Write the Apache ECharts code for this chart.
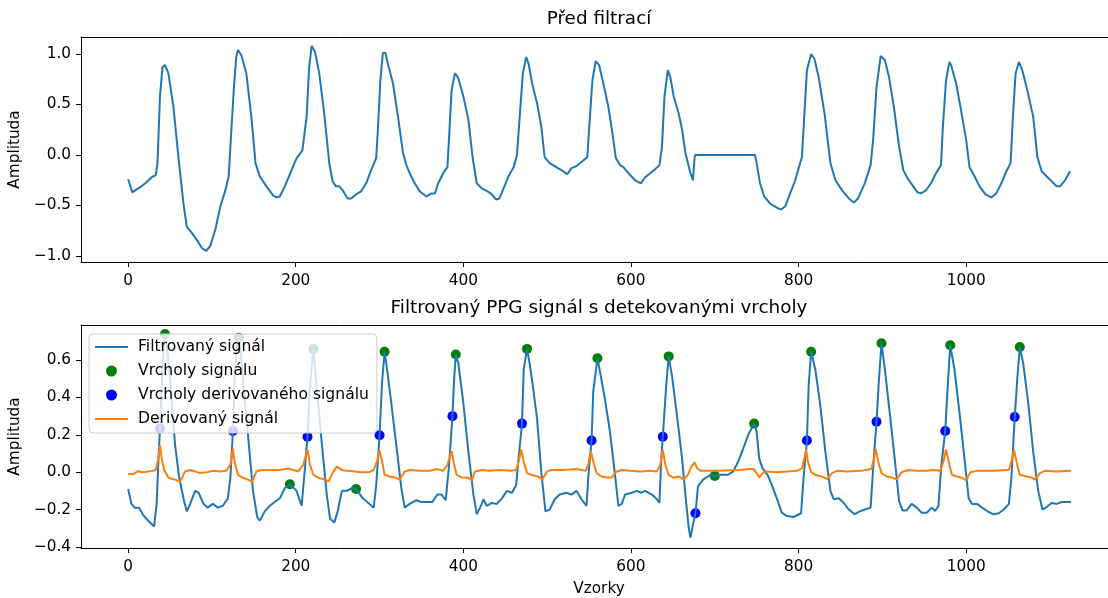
<!DOCTYPE html>
<html>
<head>
<meta charset="utf-8">
<script src="https://cdn.jsdelivr.net/npm/echarts@6/dist/echarts.min.js"></script>
<style>html,body{margin:0;padding:0;background:#fff;overflow:hidden}#c{width:1130px;height:598px}</style>
</head>
<body>
<div id="c"></div>
<script>
// ---- text ----
const titleTop = 'Před filtrací';
const titleBottom = 'Filtrovaný PPG signál s detekovanými vrcholy';
const yName = 'Amplituda';
const xName = 'Vzorky';
const seriesNames = ['Filtrovaný signál', 'Vrcholy signálu', 'Vrcholy derivovaného signálu', 'Derivovaný signál'];

// ---- ticks ----
const xTicks = [0, 200, 400, 600, 800, 1000];
const topYTicks = [-1.0, -0.5, 0.0, 0.5, 1.0];
const bottomYTicks = [-0.4, -0.2, 0.0, 0.2, 0.4, 0.6];

// ---- data: [sample, amplitude] ----
const rawSignal = [[0,-0.24],[5,-0.37],[10,-0.34],[16,-0.31],[22,-0.27],[28,-0.22],[33,-0.20],[35,-0.08],[38,0.58],[41,0.87],[44,0.89],[48,0.81],[54,0.48],[60,-0.02],[66,-0.48],[70,-0.71],[76,-0.77],[82,-0.84],[88,-0.92],[93,-0.95],[98,-0.90],[104,-0.74],[110,-0.51],[116,-0.35],[120,-0.21],[122,0.08],[126,0.64],[129,0.97],[131,1.04],[135,0.99],[141,0.81],[147,0.38],[152,-0.08],[157,-0.21],[165,-0.31],[173,-0.40],[177,-0.42],[181,-0.41],[187,-0.31],[195,-0.15],[201,-0.03],[205,0.01],[208,0.05],[213,0.38],[216,0.87],[219,1.08],[223,1.02],[228,0.81],[234,0.41],[240,-0.08],[244,-0.26],[248,-0.31],[252,-0.31],[256,-0.35],[262,-0.43],[266,-0.43],[272,-0.39],[278,-0.36],[284,-0.28],[290,-0.15],[296,-0.03],[298,0.25],[301,0.74],[304,1.01],[307,1.01],[310,0.90],[316,0.71],[322,0.38],[328,0.02],[332,-0.10],[336,-0.18],[342,-0.28],[348,-0.36],[356,-0.41],[362,-0.38],[366,-0.38],[370,-0.28],[376,-0.18],[381,-0.12],[383,0.18],[386,0.64],[390,0.81],[394,0.76],[400,0.58],[406,0.35],[411,-0.02],[416,-0.28],[422,-0.33],[429,-0.36],[434,-0.39],[439,-0.44],[443,-0.43],[448,-0.33],[454,-0.21],[460,-0.12],[464,0.0],[467,0.35],[471,0.81],[475,0.97],[478,0.90],[482,0.71],[488,0.51],[493,0.28],[497,-0.02],[503,-0.08],[511,-0.12],[519,-0.16],[524,-0.19],[529,-0.13],[535,-0.11],[541,-0.07],[548,-0.02],[550,0.25],[554,0.74],[558,0.93],[562,0.89],[567,0.71],[573,0.48],[578,0.21],[582,-0.03],[587,-0.10],[591,-0.12],[597,-0.18],[605,-0.25],[612,-0.28],[617,-0.22],[623,-0.18],[629,-0.14],[634,-0.10],[637,0.08],[640,0.58],[644,0.84],[647,0.77],[651,0.58],[657,0.41],[661,0.25],[665,0.02],[671,-0.18],[674,-0.25],[676,-0.02],[677,0.0],[748,0.0],[750,-0.08],[754,-0.28],[759,-0.41],[766,-0.48],[774,-0.52],[779,-0.54],[784,-0.51],[790,-0.38],[796,-0.25],[804,-0.02],[807,0.41],[810,0.84],[815,1.00],[819,0.95],[824,0.77],[831,0.41],[838,-0.08],[844,-0.25],[852,-0.35],[860,-0.43],[866,-0.47],[871,-0.43],[879,-0.28],[886,-0.10],[889,0.15],[893,0.67],[898,0.98],[903,0.94],[908,0.77],[914,0.46],[920,0.08],[925,-0.15],[930,-0.23],[936,-0.30],[942,-0.37],[946,-0.38],[952,-0.35],[958,-0.28],[964,-0.18],[970,-0.10],[972,0.25],[976,0.74],[980,0.92],[982,0.89],[988,0.71],[994,0.44],[1000,0.15],[1004,-0.12],[1010,-0.21],[1016,-0.31],[1023,-0.39],[1030,-0.42],[1036,-0.38],[1042,-0.28],[1048,-0.16],[1053,-0.08],[1056,0.41],[1059,0.81],[1063,0.92],[1067,0.84],[1073,0.64],[1080,0.38],[1085,-0.02],[1090,-0.16],[1096,-0.21],[1102,-0.26],[1108,-0.31],[1112,-0.31],[1118,-0.25],[1124,-0.16]];

const filteredSignal = [[0,-0.09],[4,-0.17],[8,-0.19],[13,-0.19],[18,-0.23],[24,-0.26],[31,-0.29],[34,-0.17],[36,0.05],[38,0.234],[40,0.46],[42,0.66],[44,0.74],[47,0.64],[50,0.50],[56,0.145],[61,-0.03],[66,-0.14],[70,-0.21],[74,-0.17],[80,-0.10],[84,-0.11],[90,-0.17],[95,-0.19],[101,-0.17],[107,-0.19],[113,-0.18],[119,-0.14],[122,-0.03],[125,0.22],[127,0.50],[130,0.69],[132,0.72],[134,0.66],[137,0.50],[143,0.20],[149,-0.10],[154,-0.24],[157,-0.26],[163,-0.21],[169,-0.18],[175,-0.16],[181,-0.14],[187,-0.085],[193,-0.065],[201,-0.10],[207,-0.18],[210,-0.03],[214,0.19],[217,0.46],[221,0.66],[225,0.46],[231,0.16],[237,-0.12],[241,-0.25],[246,-0.27],[250,-0.21],[255,-0.10],[261,-0.10],[267,-0.085],[272,-0.09],[280,-0.14],[288,-0.17],[293,-0.19],[296,-0.07],[300,0.198],[303,0.48],[306,0.645],[309,0.55],[314,0.37],[320,0.145],[326,-0.085],[330,-0.19],[336,-0.17],[344,-0.15],[350,-0.16],[356,-0.16],[363,-0.16],[369,-0.12],[374,-0.12],[379,-0.15],[383,0.04],[387,0.30],[389,0.50],[391,0.63],[394,0.585],[400,0.37],[406,0.11],[412,-0.12],[416,-0.225],[420,-0.19],[424,-0.145],[428,-0.18],[434,-0.165],[440,-0.17],[446,-0.14],[452,-0.10],[458,-0.11],[463,-0.07],[466,0.08],[470,0.26],[472,0.55],[476,0.66],[479,0.585],[483,0.46],[488,0.285],[493,0.0],[498,-0.21],[503,-0.20],[509,-0.145],[515,-0.12],[523,-0.11],[529,-0.12],[535,-0.10],[541,-0.145],[547,-0.18],[549,-0.03],[553,0.17],[555,0.43],[560,0.61],[564,0.515],[569,0.39],[575,0.215],[581,-0.015],[585,-0.18],[589,-0.17],[593,-0.12],[601,-0.11],[607,-0.10],[612,-0.11],[617,-0.10],[625,-0.12],[631,-0.145],[634,-0.165],[636,0.057],[638,0.19],[642,0.46],[645,0.62],[649,0.515],[655,0.30],[661,0.074],[666,-0.17],[669,-0.30],[671,-0.35],[674,-0.28],[677,-0.22],[680,-0.076],[686,-0.04],[694,-0.017],[700,-0.02],[708,-0.014],[716,-0.014],[722,0.004],[728,0.057],[734,0.127],[740,0.20],[747,0.26],[750,0.215],[753,0.074],[757,0.02],[763,-0.014],[768,-0.067],[774,-0.14],[780,-0.217],[786,-0.235],[794,-0.24],[803,-0.22],[806,-0.03],[810,0.17],[812,0.46],[815,0.645],[820,0.55],[826,0.355],[832,0.11],[838,-0.10],[842,-0.145],[848,-0.14],[854,-0.165],[860,-0.20],[867,-0.225],[873,-0.21],[879,-0.20],[886,-0.19],[889,0.02],[893,0.27],[896,0.50],[899,0.69],[903,0.55],[909,0.31],[915,0.06],[920,-0.155],[924,-0.205],[929,-0.205],[935,-0.17],[941,-0.19],[947,-0.217],[953,-0.217],[959,-0.19],[963,-0.208],[967,-0.18],[970,0.02],[975,0.22],[978,0.46],[981,0.68],[986,0.55],[992,0.32],[998,0.074],[1003,-0.14],[1007,-0.17],[1013,-0.17],[1019,-0.19],[1025,-0.208],[1032,-0.225],[1039,-0.22],[1045,-0.20],[1051,-0.17],[1054,-0.03],[1058,0.295],[1061,0.50],[1064,0.67],[1068,0.585],[1074,0.374],[1080,0.11],[1086,-0.10],[1091,-0.20],[1096,-0.187],[1102,-0.165],[1108,-0.17],[1114,-0.16],[1125,-0.16]];

const derivSignal = [[0,-0.01],[6,-0.01],[12,0.005],[18,0.0],[24,0.004],[30,0.007],[33,0.012],[36,0.074],[38,0.145],[40,0.074],[43,0.012],[48,-0.03],[56,-0.04],[62,-0.05],[68,0.004],[74,0.012],[80,0.004],[86,-0.005],[94,0.0],[101,0.007],[109,0.004],[117,0.007],[122,0.04],[125,0.127],[127,0.057],[131,-0.014],[137,-0.03],[143,-0.04],[148,-0.05],[153,0.004],[159,0.012],[170,0.012],[181,0.012],[191,0.02],[197,0.012],[203,0.004],[209,0.04],[214,0.12],[217,0.04],[221,-0.014],[227,-0.03],[235,-0.04],[239,-0.05],[245,0.004],[249,0.03],[255,0.012],[261,0.007],[272,0.004],[277,0.0],[288,0.0],[293,0.012],[297,0.057],[300,0.118],[303,0.057],[306,-0.014],[312,-0.023],[320,-0.03],[324,-0.04],[330,0.004],[336,0.012],[348,0.007],[360,0.007],[368,0.017],[376,0.007],[381,0.04],[386,0.113],[389,0.04],[392,-0.014],[398,-0.028],[406,-0.03],[410,-0.044],[414,0.004],[422,0.012],[431,0.007],[444,0.012],[456,0.007],[463,0.012],[466,0.057],[469,0.122],[472,0.057],[476,-0.005],[483,-0.017],[489,-0.023],[494,-0.04],[500,0.004],[505,0.012],[520,0.012],[535,0.017],[546,0.007],[549,0.04],[552,0.115],[555,0.057],[559,-0.005],[565,-0.023],[571,-0.028],[577,-0.028],[583,0.004],[589,0.012],[599,0.007],[611,0.004],[623,0.007],[631,0.004],[635,0.04],[638,0.12],[641,0.04],[645,-0.014],[651,-0.03],[657,-0.023],[663,-0.04],[668,-0.014],[672,0.03],[676,0.053],[679,0.02],[684,0.007],[694,0.007],[706,0.007],[718,0.01],[730,0.012],[740,0.017],[746,0.017],[750,-0.005],[753,-0.028],[757,-0.005],[762,0.004],[774,0.0],[786,0.004],[798,0.007],[804,0.02],[807,0.074],[809,0.123],[811,0.057],[815,0.0],[821,-0.017],[828,-0.023],[834,-0.037],[840,-0.005],[846,0.007],[858,0.004],[874,0.007],[887,0.017],[890,0.074],[892,0.123],[895,0.057],[899,-0.005],[905,-0.023],[911,-0.028],[917,-0.04],[923,0.0],[931,0.012],[941,0.007],[953,0.007],[961,0.012],[969,0.007],[973,0.057],[976,0.122],[980,0.04],[983,-0.014],[989,-0.023],[995,-0.03],[1000,-0.044],[1005,0.0],[1013,0.007],[1025,0.007],[1037,0.007],[1047,0.012],[1051,0.012],[1054,0.057],[1057,0.122],[1060,0.057],[1064,-0.014],[1072,-0.023],[1078,-0.028],[1082,-0.04],[1088,-0.005],[1094,0.007],[1108,0.004],[1125,0.007]];

const signalPeaks = [[44,0.74],[132,0.72],[193,-0.065],[221,0.66],[272,-0.09],[306,0.645],[391,0.63],[476,0.66],[560,0.61],[645,0.62],[700,-0.02],[747,0.26],[815,0.645],[899,0.69],[981,0.68],[1064,0.67]];

const derivPeaks = [[38,0.234],[125,0.22],[214,0.19],[300,0.198],[387,0.30],[470,0.26],[553,0.17],[638,0.19],[677,-0.22],[810,0.17],[893,0.27],[975,0.22],[1058,0.295]];

// ---- chart ----
const FONT = 'DejaVu Sans';
const TICK_FS = 15.3;
const LINE_ICON = 'path://M0,0L33,0L33,2L0,2Z';
const X_MIN = -56.2, X_MAX = 1180;
const fmtY = v => (v < 0 ? '\u2212' : '') + Math.abs(v).toFixed(1);
const spine = { show: true, onZero: false, lineStyle: { color: '#000', width: 1 } };

function xAxisCfg(gi, name) {
  return {
    type: 'value', gridIndex: gi, min: X_MIN, max: X_MAX, position: 'bottom',
    axisLine: spine,
    splitLine: { show: false },
    axisTick: { show: true, length: 5, lineStyle: { color: '#000', width: 1 }, customValues: xTicks },
    axisLabel: { color: '#000', fontFamily: FONT, fontSize: TICK_FS, margin: 12, customValues: xTicks, formatter: v => String(v) },
    name: name || '', nameLocation: 'middle', nameGap: 34,
    nameTextStyle: { color: '#000', fontFamily: FONT, fontSize: TICK_FS }
  };
}
function topSpine(gi) {
  return {
    type: 'value', gridIndex: gi, min: X_MIN, max: X_MAX, position: 'top',
    axisLine: spine, axisTick: { show: false }, axisLabel: { show: false }, splitLine: { show: false }
  };
}
function yAxisCfg(gi, min, max, ticks) {
  return {
    type: 'value', gridIndex: gi, min: min, max: max, position: 'left',
    axisLine: spine,
    splitLine: { show: false },
    axisTick: { show: true, length: 5, lineStyle: { color: '#000', width: 1 }, customValues: ticks },
    axisLabel: { color: '#000', fontFamily: FONT, fontSize: TICK_FS, margin: 10, customValues: ticks, formatter: fmtY },
    name: yName, nameLocation: 'middle', nameGap: 53,
    nameTextStyle: { color: '#000', fontFamily: FONT, fontSize: TICK_FS }
  };
}

const chart = echarts.init(document.getElementById('c'), null, { renderer: 'canvas' });
chart.setOption({
  animation: false,
  backgroundColor: '#fff',
  textStyle: { fontFamily: FONT },
  grid: [
    { left: 81, top: 37, width: 1036, height: 225, show: false, containLabel: false },
    { left: 81, top: 325, width: 1036, height: 226, show: false, containLabel: false }
  ],
  xAxis: [xAxisCfg(0, ''), xAxisCfg(1, xName), topSpine(0), topSpine(1)],
  yAxis: [yAxisCfg(0, -1.059, 1.168, topYTicks), yAxisCfg(1, -0.406, 0.788, bottomYTicks)],
  graphic: [
    { type: 'text', x: 599, y: 19, z: 10, style: { text: titleTop, fontFamily: FONT, fontSize: 18.4, fill: '#000', align: 'center', verticalAlign: 'middle', textAlign: 'center', textVerticalAlign: 'middle' } },
    { type: 'text', x: 599, y: 308, z: 10, style: { text: titleBottom, fontFamily: FONT, fontSize: 18.4, fill: '#000', align: 'center', verticalAlign: 'middle', textAlign: 'center', textVerticalAlign: 'middle' } }
  ],
  legend: {
    orient: 'vertical', left: 89, top: 334,
    padding: [5, 8, 6, 6], itemGap: 8,
    itemWidth: 33, itemHeight: 11,
    backgroundColor: 'rgba(255,255,255,0.8)', borderColor: '#cccccc', borderWidth: 1, borderRadius: 4,
    selectedMode: false, z: 20,
    textStyle: { color: '#000', fontFamily: FONT, fontSize: 15.6, padding: [0, 0, 0, 5] },
    data: [
      { name: seriesNames[0], icon: LINE_ICON },
      { name: seriesNames[1], icon: 'circle' },
      { name: seriesNames[2], icon: 'circle' },
      { name: seriesNames[3], icon: LINE_ICON }
    ]
  },
  series: [
    { name: 'raw', type: 'line', xAxisIndex: 0, yAxisIndex: 0, data: rawSignal, showSymbol: false, symbol: 'none',
      lineStyle: { color: '#1f77b4', width: 2 }, itemStyle: { color: '#1f77b4' }, z: 3 },
    { name: seriesNames[1], type: 'scatter', xAxisIndex: 1, yAxisIndex: 1, data: signalPeaks, symbolSize: 10,
      itemStyle: { color: '#008000', opacity: 1 }, z: 2 },
    { name: seriesNames[2], type: 'scatter', xAxisIndex: 1, yAxisIndex: 1, data: derivPeaks, symbolSize: 10,
      itemStyle: { color: '#0000ff', opacity: 1 }, z: 2 },
    { name: seriesNames[0], type: 'line', xAxisIndex: 1, yAxisIndex: 1, data: filteredSignal, showSymbol: false, symbol: 'none',
      lineStyle: { color: '#1f77b4', width: 2 }, itemStyle: { color: '#1f77b4' }, z: 3 },
    { name: seriesNames[3], type: 'line', xAxisIndex: 1, yAxisIndex: 1, data: derivSignal, showSymbol: false, symbol: 'none',
      lineStyle: { color: '#ff7f0e', width: 2 }, itemStyle: { color: '#ff7f0e' }, z: 4 }
  ]
});
</script>
</body>
</html>
